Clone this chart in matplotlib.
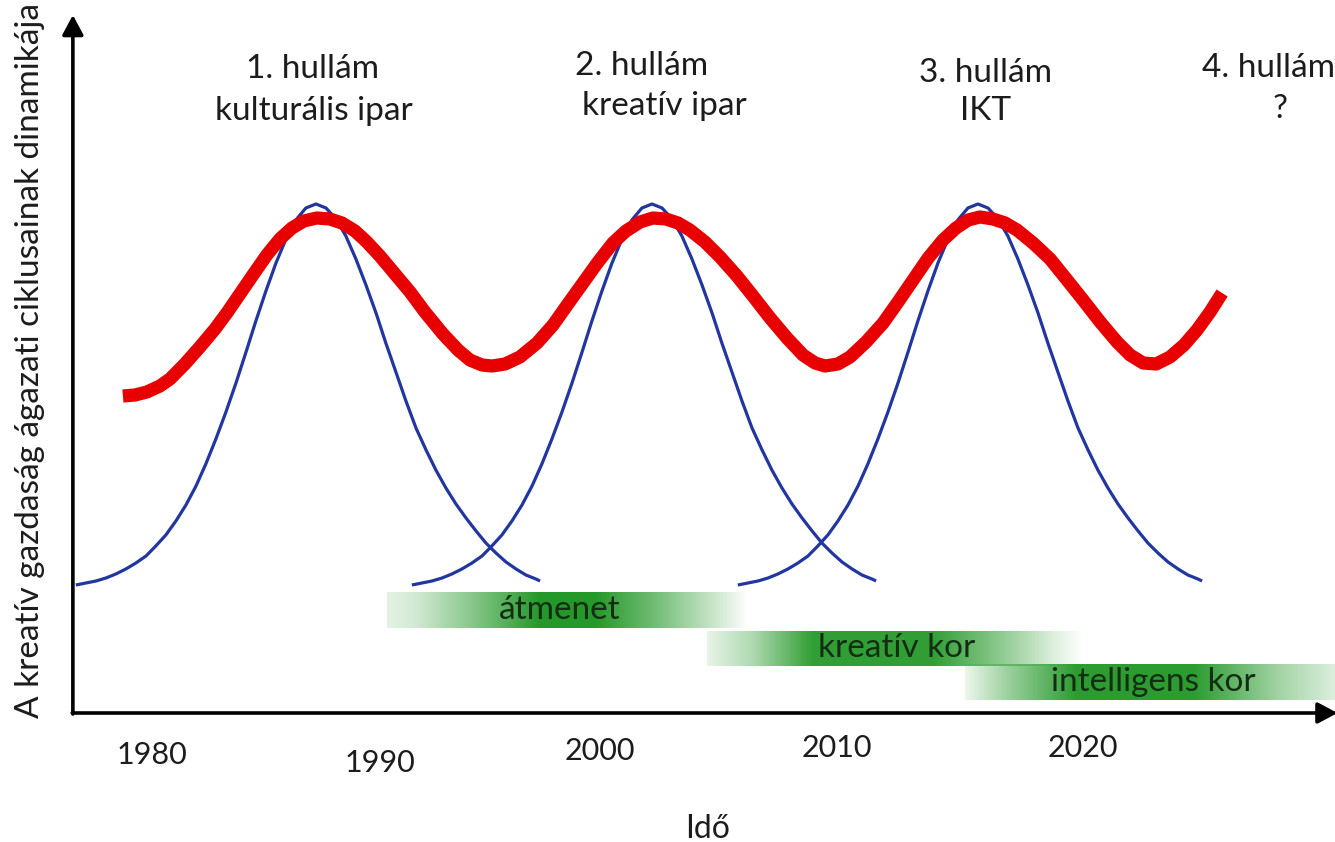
import numpy as np
import matplotlib
matplotlib.use("Agg")
import matplotlib.pyplot as plt
from matplotlib.patches import ArrowStyle
from matplotlib.transforms import offset_copy

plt.rcParams['font.family'] = ['Lato', 'DejaVu Sans']

# ---------------------------------------------------------------- data
tick_years = [1980, 1990, 2000, 2010, 2020]

wave_titles = ["1. hullám", "2. hullám", "3. hullám", "4. hullám"]
wave_names = ["kulturális ipar", "kreatív ipar", "IKT", "?"]

era_names = ["átmenet", "kreatív kor", "intelligens kor"]
era_start = [1990.0, 2004.0, 2015.3]
era_end = [2005.8, 2020.5, 2031.5]

# sector cycles (blue bell curves): shared level profile, one time axis per wave
bell_level = [1.20, 1.22, 1.24, 1.27, 1.31, 1.36, 1.42, 1.49, 1.59, 1.70,
              1.84, 2.00, 2.19, 2.41, 2.66, 2.93, 3.22, 3.53, 3.84, 4.14,
              4.42, 4.66, 4.85, 4.97, 5.01,
              4.97, 4.86, 4.69, 4.46, 4.20, 3.92, 3.62, 3.33, 3.04, 2.77,
              2.55, 2.35, 2.17, 2.01, 1.87, 1.74, 1.62, 1.52, 1.43, 1.36,
              1.30, 1.26, 1.24]

wave1_year = [1976.39, 1976.83, 1977.27, 1977.71, 1978.14, 1978.58, 1979.02, 1979.46,
              1979.89, 1980.33, 1980.77, 1981.21, 1981.65, 1982.08, 1982.52, 1982.96,
              1983.40, 1983.84, 1984.27, 1984.71, 1985.15, 1985.59, 1986.02, 1986.46,
              1986.90, 1987.34, 1987.78, 1988.21, 1988.65, 1989.09, 1989.53, 1989.96,
              1990.40, 1990.84, 1991.28, 1991.72, 1992.15, 1992.59, 1993.03, 1993.47,
              1993.91, 1994.34, 1994.78, 1995.22, 1995.66, 1996.09, 1996.53, 1996.71]

wave2_year = [1991.10, 1991.54, 1991.98, 1992.42, 1992.85, 1993.29, 1993.73, 1994.17,
              1994.60, 1995.04, 1995.48, 1995.92, 1996.36, 1996.79, 1997.23, 1997.67,
              1998.11, 1998.55, 1998.98, 1999.42, 1999.86, 2000.30, 2000.73, 2001.17,
              2001.61, 2002.05, 2002.49, 2002.92, 2003.36, 2003.80, 2004.24, 2004.67,
              2005.11, 2005.55, 2005.99, 2006.43, 2006.86, 2007.30, 2007.74, 2008.18,
              2008.62, 2009.05, 2009.49, 2009.93, 2010.37, 2010.80, 2011.24, 2011.42]

wave3_year = [2005.37, 2005.81, 2006.25, 2006.69, 2007.12, 2007.56, 2008.00, 2008.44,
              2008.87, 2009.31, 2009.75, 2010.19, 2010.63, 2011.06, 2011.50, 2011.94,
              2012.38, 2012.82, 2013.25, 2013.69, 2014.13, 2014.57, 2015.00, 2015.44,
              2015.88, 2016.32, 2016.76, 2017.19, 2017.63, 2018.07, 2018.51, 2018.94,
              2019.38, 2019.82, 2020.26, 2020.70, 2021.13, 2021.57, 2022.01, 2022.45,
              2022.89, 2023.32, 2023.76, 2024.20, 2024.64, 2025.07, 2025.51, 2025.69]

# overall creative-economy dynamics (red line)
red_year = [1978.45, 1978.98, 1979.50, 1980.07, 1980.51, 1981.16, 1981.82, 1982.48, 1983.00, 1983.57,
            1984.14, 1984.75, 1985.32, 1985.85, 1986.37, 1986.94, 1987.51, 1988.04, 1988.61, 1989.13,
            1989.70, 1990.36, 1991.02, 1991.67, 1992.46, 1993.12, 1993.64, 1994.17, 1994.61, 1995.18,
            1995.83, 1996.58, 1997.28, 1997.93, 1998.59, 1999.25, 1999.90, 2000.47, 2001.09, 2001.65,
            2002.22, 2002.75, 2003.27, 2003.93, 2004.59, 2005.33, 2006.03, 2006.78, 2007.52, 2008.22,
            2008.75, 2009.19, 2009.75, 2010.28, 2010.98, 2011.73, 2012.38, 2013.04, 2013.70, 2014.35,
            2014.92, 2015.45, 2015.97, 2016.54, 2017.07, 2017.59, 2018.29, 2019.04, 2019.78, 2020.48,
            2021.23, 2021.97, 2022.54, 2023.11, 2023.68, 2024.29, 2024.90, 2025.47, 2026.04, 2026.57]
red_level = [3.09, 3.10, 3.13, 3.19, 3.26, 3.41, 3.58, 3.76, 3.92, 4.11,
             4.30, 4.50, 4.66, 4.77, 4.84, 4.87, 4.86, 4.82, 4.74, 4.63,
             4.49, 4.31, 4.13, 3.93, 3.71, 3.55, 3.45, 3.40, 3.39, 3.41,
             3.48, 3.62, 3.80, 4.01, 4.22, 4.43, 4.62, 4.74, 4.83, 4.87,
             4.86, 4.82, 4.75, 4.63, 4.48, 4.29, 4.09, 3.87, 3.67, 3.50,
             3.42, 3.39, 3.41, 3.48, 3.63, 3.82, 4.03, 4.25, 4.47, 4.65,
             4.77, 4.85, 4.88, 4.86, 4.82, 4.75, 4.62, 4.46, 4.25, 4.05,
             3.83, 3.63, 3.50, 3.42, 3.41, 3.48, 3.60, 3.75, 3.93, 4.12]

# ---------------------------------------------------------------- layout / style
TEXT = '#1c1c1c'
BLUE = '#2236a0'
RED = '#e80000'
GREEN = np.array([0.10, 0.58, 0.12])
FS = 24

X_MIN, X_MAX = 1973.07, 2031.51
Y_MIN, Y_MAX = -1.37, 7.05
AXIS_X, AXIS_Y = 1976.26, -0.08

# vertical band for each era bar, and its colour-density profile along the bar
era_rows = [(0.77, 1.13), (0.39, 0.74), (0.05, 0.41)]
era_profiles = [
    ([0.0, 0.08, 0.25, 0.42, 0.58, 0.75, 0.90, 1.0], [0.12, 0.20, 0.55, 0.95, 0.95, 0.60, 0.25, 0.0]),
    ([0.0, 0.12, 0.28, 0.60, 0.80, 0.92, 1.0], [0.10, 0.35, 0.90, 0.90, 0.45, 0.15, 0.0]),
    ([0.0, 0.12, 0.30, 0.62, 0.85, 1.0], [0.08, 0.45, 0.92, 0.92, 0.40, 0.15]),
]
era_text_pos = [(1997.55, 0.95), (2012.32, 0.57), (2023.56, 0.23)]

title_pos = [(1986.77, 6.27), (2001.17, 6.30), (2016.19, 6.23), (2028.58, 6.28)]
name_pos = [(1986.81, 5.85), (2002.14, 5.90), (2016.23, 5.85), (2029.10, 5.87)]
tick_nudge = [(-6, 0), (-7, -8), (-15, 4), (-7, 7), (11, 7)]   # pixels

fig = plt.figure(figsize=(13.35, 8.42), dpi=100)
ax = fig.add_axes([0, 0, 1, 1])
ax.axis('off')

# era bars with soft green gradients
for (x0, x1), (y0, y1), (pos, alp) in zip(zip(era_start, era_end), era_rows, era_profiles):
    t = np.linspace(0, 1, 400)
    a = np.interp(t, pos, alp)
    img = np.zeros((1, t.size, 4))
    img[0, :, :3] = GREEN
    img[0, :, 3] = a
    ax.imshow(img, extent=[x0, x1, y0, y1], aspect='auto',
              interpolation='bilinear', zorder=1)

for name, (x, y) in zip(era_names, era_text_pos):
    ax.text(x, y, name, ha='center', va='center', fontsize=FS,
            color='#142e14', zorder=3)

# wave curves
for yrs in (wave1_year, wave2_year, wave3_year):
    ax.plot(yrs, bell_level, color=BLUE, lw=2.3, solid_joinstyle='round',
            solid_capstyle='butt', zorder=4)

ax.plot(red_year, red_level, color=RED, lw=9.5, solid_joinstyle='round',
        solid_capstyle='butt', zorder=5)

# axes with arrow heads
head = ArrowStyle('-|>', head_length=0.6, head_width=0.32)
ax.annotate('', xy=(AXIS_X, 6.90), xytext=(AXIS_X, AXIS_Y - 0.01),
            arrowprops=dict(arrowstyle=head, color='black', lw=2.6,
                            mutation_scale=20, shrinkA=0, shrinkB=0),
            annotation_clip=False, zorder=6)
ax.annotate('', xy=(2031.62, AXIS_Y), xytext=(AXIS_X - 0.03, AXIS_Y),
            arrowprops=dict(arrowstyle=head, color='black', lw=2.6,
                            mutation_scale=20, shrinkA=0, shrinkB=0),
            annotation_clip=False, zorder=6)

# wave titles
for txt, (x, y) in zip(wave_titles, title_pos):
    ax.text(x, y, txt, ha='center', va='baseline', fontsize=FS, color=TEXT)
for txt, (x, y) in zip(wave_names, name_pos):
    ax.text(x, y, txt, ha='center', va='baseline', fontsize=FS, color=TEXT)

# year labels
for yr, (dx, dy) in zip(tick_years, tick_nudge):
    tr = offset_copy(ax.transData, fig=fig, x=dx, y=dy, units='dots')
    ax.text(yr, -0.59, str(yr), transform=tr, ha='center', va='baseline',
            fontsize=22, color=TEXT)

ax.text(2004.06, -1.33, 'Idő', ha='center', va='baseline', fontsize=23, color=TEXT)
ax.text(1974.37, 3.45, 'A kreatív gazdaság ágazati ciklusainak dinamikája',
        rotation=90, ha='center', va='center', fontsize=24, color=TEXT)

ax.set_xlim(X_MIN, X_MAX)
ax.set_ylim(Y_MIN, Y_MAX)

fig.savefig('out.png', dpi=100, facecolor='white')
